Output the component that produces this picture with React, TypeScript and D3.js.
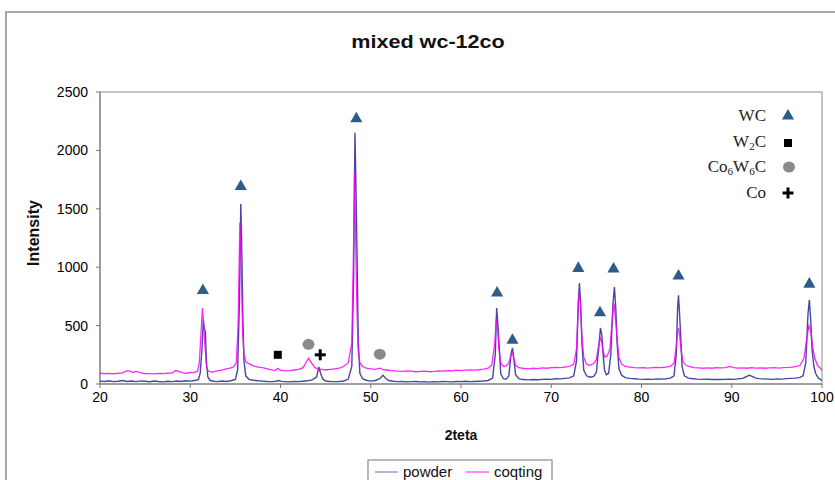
import React from "react";
import * as d3 from "d3";

const TITLE = "mixed wc-12co";
const X_LABEL = "2teta";
const Y_LABEL = "Intensity";
const THETA_TICKS = [20, 30, 40, 50, 60, 70, 80, 90, 100];
const INTENSITY_TICKS = [0, 500, 1000, 1500, 2000, 2500];
const SERIES_NAMES = ["powder", "coqting"];
const SERIES_COLORS = ["#4646a6", "#ff00ff"];

// [2theta, intensity]
const powder: [number, number][] = [
  [20, 25], [20.5, 22], [21, 28], [21.5, 20], [22, 24], [22.5, 30], [23, 22], [23.5, 26], [24, 20], [24.5, 27],
  [25, 23], [25.5, 19], [26, 25], [26.5, 21], [27, 18], [27.5, 24], [28, 20], [28.5, 26], [29, 22], [29.5, 28],
  [30, 25], [30.5, 30], [30.9, 38], [31.1, 90], [31.3, 300], [31.45, 550], [31.55, 480], [31.68, 440], [31.8, 180],
  [31.95, 60], [32.2, 30], [32.6, 24], [33, 20], [33.5, 26], [34, 22], [34.5, 28], [35, 40], [35.25, 120],
  [35.45, 700], [35.6, 1540], [35.72, 1100], [35.82, 600], [35.95, 200], [36.15, 70], [36.5, 40], [37, 32],
  [37.5, 28], [38, 25], [38.5, 22], [39, 20], [39.5, 24], [39.8, 30], [40.1, 22], [40.5, 20], [41, 18], [41.5, 22],
  [42, 20], [42.5, 24], [43, 28], [43.5, 35], [44, 60], [44.25, 145], [44.45, 90], [44.7, 40], [45, 26], [45.5, 22],
  [46, 20], [46.5, 22], [47, 26], [47.5, 40], [47.9, 150], [48.1, 900], [48.25, 2150], [48.38, 1600], [48.5, 1000],
  [48.62, 350], [48.8, 90], [49.1, 45], [49.5, 32], [50, 25], [50.5, 30], [51, 45], [51.35, 75], [51.7, 45],
  [52, 30], [52.5, 24], [53, 20], [53.5, 22], [54, 18], [54.5, 20], [55, 22], [55.5, 18], [56, 20], [56.5, 16],
  [57, 20], [57.5, 18], [58, 22], [58.5, 20], [59, 18], [59.5, 22], [60, 20], [60.5, 24], [61, 20], [61.5, 22],
  [62, 24], [62.5, 26], [63, 30], [63.5, 50], [63.8, 250], [63.95, 650], [64.1, 500], [64.25, 300], [64.4, 90],
  [64.7, 45], [65, 40], [65.3, 70], [65.55, 260], [65.7, 310], [65.85, 220], [66.05, 80], [66.4, 45], [66.8, 38],
  [67.5, 35], [68, 38], [68.5, 36], [69, 40], [69.5, 42], [70, 40], [70.5, 45], [71, 44], [71.5, 48], [72, 52],
  [72.5, 70], [72.8, 200], [73.0, 700], [73.12, 865], [73.25, 700], [73.4, 350], [73.6, 120], [73.9, 70],
  [74.3, 58], [74.7, 65], [75.0, 100], [75.25, 300], [75.45, 480], [75.6, 420], [75.75, 250], [75.9, 120],
  [76.1, 80], [76.35, 90], [76.6, 250], [76.85, 700], [77.0, 830], [77.15, 650], [77.3, 350], [77.5, 130],
  [77.8, 75], [78.2, 55], [78.7, 48], [79.2, 45], [79.7, 42], [80.2, 40], [80.7, 42], [81.2, 40], [81.7, 44],
  [82.2, 42], [82.7, 45], [83.2, 50], [83.6, 70], [83.85, 250], [84.0, 650], [84.1, 760], [84.22, 600],
  [84.35, 400], [84.5, 150], [84.75, 70], [85.2, 50], [85.7, 45], [86.2, 42], [86.7, 40], [87.2, 42], [87.7, 38],
  [88.2, 40], [88.7, 38], [89.2, 40], [89.7, 42], [90.2, 40], [90.7, 44], [91.2, 48], [91.6, 62], [91.9, 75],
  [92.2, 68], [92.6, 52], [93, 46], [93.5, 44], [94, 42], [94.5, 40], [95, 44], [95.5, 42], [96, 46], [96.5, 48],
  [97, 50], [97.5, 55], [97.9, 70], [98.2, 180], [98.45, 600], [98.6, 720], [98.75, 550], [98.9, 300],
  [99.1, 150], [99.3, 90], [99.6, 50], [100, 30],
];

const coating: [number, number][] = [
  [20, 92], [20.5, 88], [21, 90], [21.5, 86], [22, 92], [22.5, 95], [23, 115], [23.3, 110], [23.6, 100], [24, 108],
  [24.5, 95], [25, 90], [25.5, 88], [26, 86], [26.5, 90], [27, 88], [27.5, 92], [28, 95], [28.4, 115], [28.8, 105],
  [29.2, 95], [29.6, 92], [30, 100], [30.4, 98], [30.8, 110], [31.0, 180], [31.2, 450], [31.35, 650], [31.5, 500],
  [31.65, 300], [31.8, 150], [32.0, 110], [32.4, 100], [32.8, 110], [33.2, 115], [33.6, 120], [34, 130],
  [34.4, 135], [34.8, 145], [35.1, 180], [35.3, 500], [35.5, 1380], [35.65, 1000], [35.8, 450], [35.95, 250],
  [36.2, 185], [36.6, 170], [37, 155], [37.5, 145], [38, 140], [38.5, 130], [39, 120], [39.4, 115], [39.7, 135],
  [40, 118], [40.5, 112], [41, 115], [41.5, 120], [42, 125], [42.5, 140], [42.8, 180], [43.1, 220], [43.4, 185],
  [43.8, 140], [44.2, 130], [44.6, 125], [45, 120], [45.5, 125], [46, 130], [46.5, 135], [47, 150], [47.5, 180],
  [47.9, 350], [48.1, 1200], [48.2, 1815], [48.32, 1300], [48.45, 700], [48.6, 300], [48.8, 180], [49.1, 150],
  [49.5, 135], [50, 130], [50.5, 125], [51, 135], [51.3, 125], [51.8, 120], [52.3, 115], [53, 110], [53.5, 108],
  [54, 112], [54.5, 110], [55, 105], [55.5, 108], [56, 110], [56.5, 105], [57, 108], [57.5, 112], [58, 110],
  [58.5, 115], [59, 112], [59.5, 118], [60, 115], [60.5, 118], [61, 120], [61.5, 118], [62, 122], [62.5, 128],
  [63, 135], [63.4, 160], [63.75, 350], [63.9, 560], [64.05, 480], [64.2, 300], [64.4, 180], [64.7, 150],
  [65, 155], [65.3, 180], [65.55, 250], [65.7, 270], [65.85, 220], [66.05, 160], [66.4, 140], [66.8, 135],
  [67.5, 130], [68, 135], [68.5, 132], [69, 138], [69.5, 135], [70, 140], [70.5, 142], [71, 140], [71.5, 145],
  [72, 150], [72.5, 170], [72.8, 300], [73.0, 700], [73.1, 790], [73.25, 650], [73.4, 400], [73.6, 230],
  [73.9, 170], [74.3, 160], [74.7, 175], [75.0, 210], [75.25, 330], [75.45, 390], [75.6, 360], [75.75, 280],
  [75.95, 230], [76.2, 240], [76.5, 300], [76.8, 600], [76.95, 690], [77.1, 580], [77.3, 380], [77.5, 230],
  [77.8, 170], [78.2, 150], [78.7, 145], [79.2, 140], [79.7, 138], [80.2, 140], [80.7, 136], [81.2, 140],
  [81.7, 142], [82.2, 140], [82.7, 145], [83.2, 150], [83.6, 180], [83.85, 320], [84.0, 440], [84.1, 480],
  [84.25, 400], [84.4, 280], [84.6, 190], [84.9, 160], [85.3, 150], [85.8, 140], [86.3, 138], [86.8, 135],
  [87.3, 138], [87.8, 135], [88.3, 140], [88.8, 138], [89.3, 140], [89.8, 150], [90.2, 140], [90.7, 136],
  [91.2, 138], [91.7, 135], [92.2, 140], [92.7, 136], [93.2, 138], [93.7, 135], [94.2, 138], [94.7, 140],
  [95.2, 136], [95.7, 140], [96.2, 142], [96.7, 145], [97.2, 150], [97.6, 165], [98, 220], [98.3, 380],
  [98.55, 500], [98.75, 460], [98.95, 320], [99.2, 220], [99.5, 160], [100, 120],
];

// phase annotation markers [2theta, intensity]
const wcMarks: [number, number][] = [
  [31.4, 800], [35.6, 1690], [48.4, 2270], [64.0, 780], [65.7, 375], [73.0, 990], [75.4, 610], [76.9, 985],
  [84.1, 925], [98.6, 855],
];
const w2cMarks: [number, number][] = [[39.7, 250]];
const co6w6cMarks: [number, number][] = [[43.1, 340], [51.0, 255]];
const coMarks: [number, number][] = [[44.4, 250]];

const SANS = "'Liberation Sans', Arial, sans-serif";
const SERIF = "'Liberation Serif', 'Times New Roman', serif";

const W = 835;
const H = 480;
const PL = 100, PR = 822, PT = 92, PB = 384;

export default function App() {
  const x = d3.scaleLinear().domain([20, 100]).range([PL, PR]);
  const y = d3.scaleLinear().domain([0, 2500]).range([PB, PT]);
  const line = d3
    .line<[number, number]>()
    .x((d) => x(d[0]))
    .y((d) => y(d[1]));

  const tri = d3.symbol().type(d3.symbolTriangle).size(64)() as string;

  return (
    <svg
      width={W}
      height={H}
      style={{ position: "absolute", left: 0, top: 0, background: "#fff" }}
    >
      <rect x={0} y={0} width={W} height={H} fill="#fff" />
      <rect x={6} y={12} width={860} height={520} fill="#fff" stroke="#a8a8a8" strokeWidth={2} />

      <text
        x={428}
        y={48}
        textAnchor="middle"
        fontFamily={SANS}
        fontSize={18}
        fontWeight="bold"
        fill="#111"
        transform="translate(428,0) scale(1.2,1) translate(-428,0)"
      >
        {TITLE}
      </text>

      {/* plot border */}
      <rect x={PL} y={PT} width={PR - PL} height={PB - PT} fill="#fff" stroke="#8c8c8c" strokeWidth={1} />

      {/* series */}
      <path d={line(powder) || ""} fill="none" stroke={SERIES_COLORS[0]} strokeWidth={1.4} />
      <path d={line(coating) || ""} fill="none" stroke={SERIES_COLORS[1]} strokeWidth={1.3} strokeOpacity={0.85} />

      {/* axes */}
      <line x1={PL} x2={PL} y1={PT} y2={PB} stroke="#777" />
      <line x1={PL} x2={PR} y1={PB} y2={PB} stroke="#777" />
      {INTENSITY_TICKS.map((t) => (
        <g key={"y" + t}>
          <line x1={PL - 4} x2={PL} y1={y(t)} y2={y(t)} stroke="#777" />
          <text
            x={88}
            y={y(t)}
            dy="0.35em"
            textAnchor="end"
            fontFamily={SANS}
            fontSize={14}
            fill="#000"
          >
            {t}
          </text>
        </g>
      ))}
      {THETA_TICKS.map((t) => (
        <g key={"x" + t}>
          <line x1={x(t)} x2={x(t)} y1={PB} y2={PB + 4} stroke="#777" />
          <text
            x={x(t)}
            y={PB + 18}
            textAnchor="middle"
            fontFamily={SANS}
            fontSize={14}
            fill="#000"
          >
            {t}
          </text>
        </g>
      ))}

      <text
        x={461}
        y={440}
        textAnchor="middle"
        fontFamily={SANS}
        fontSize={14}
        fontWeight="bold"
        fill="#111"
      >
        {X_LABEL}
      </text>
      <text
        transform={`translate(39,233) rotate(-90)`}
        textAnchor="middle"
        fontFamily={SANS}
        fontSize={16}
        fontWeight="bold"
        fill="#111"
      >
        {Y_LABEL}
      </text>

      {/* phase markers */}
      {wcMarks.map((d, i) => (
        <path key={"wc" + i} d={tri} transform={`translate(${x(d[0])},${y(d[1])})`} fill="#2e5c8a" />
      ))}
      {w2cMarks.map((d, i) => (
        <rect key={"w2c" + i} x={x(d[0]) - 4} y={y(d[1]) - 4} width={8} height={8} fill="#000" />
      ))}
      {co6w6cMarks.map((d, i) => (
        <ellipse key={"co6" + i} cx={x(d[0])} cy={y(d[1])} rx={6} ry={5.5} fill="#8a8a8a" />
      ))}
      {coMarks.map((d, i) => (
        <g key={"co" + i} transform={`translate(${x(d[0])},${y(d[1])})`}>
          <line x1={-5.5} x2={5.5} y1={0} y2={0} stroke="#000" strokeWidth={3} />
          <line x1={0} x2={0} y1={-5.5} y2={5.5} stroke="#000" strokeWidth={3} />
        </g>
      ))}

      {/* phase legend */}
      <g fontFamily={SERIF} fontSize={17} fill="#222">
        <text x={766} y={121} textAnchor="end">WC</text>
        <path d={tri} transform="translate(788,116)" fill="#2e5c8a" />
        <text x={766} y={147} textAnchor="end">
          W<tspan fontSize={11} dy={3}>2</tspan>
          <tspan dy={-3}>C</tspan>
        </text>
        <rect x={784} y={139} width={8} height={8} fill="#000" />
        <text x={766} y={172} textAnchor="end">
          Co<tspan fontSize={11} dy={3}>6</tspan>
          <tspan dy={-3}>W</tspan>
          <tspan fontSize={11} dy={3}>6</tspan>
          <tspan dy={-3}>C</tspan>
        </text>
        <ellipse cx={789} cy={167} rx={6} ry={5.5} fill="#8a8a8a" />
        <text x={766} y={198} textAnchor="end">Co</text>
        <g transform="translate(788,193)">
          <line x1={-5.5} x2={5.5} y1={0} y2={0} stroke="#000" strokeWidth={3} />
          <line x1={0} x2={0} y1={-5.5} y2={5.5} stroke="#000" strokeWidth={3} />
        </g>
      </g>

      {/* series legend */}
      <rect x={368} y={460} width={184} height={30} fill="#fff" stroke="#777" />
      {SERIES_NAMES.map((n, i) => {
        const lx = i === 0 ? 375 : 466;
        return (
          <g key={n}>
            <line x1={lx} x2={lx + 23} y1={472} y2={472} stroke={i === 0 ? "#9a9ad8" : "#ff66ff"} strokeWidth={1.5} />
            <text x={lx + 28} y={477} fontFamily={SANS} fontSize={15} fill="#111">
              {n}
            </text>
          </g>
        );
      })}
    </svg>
  );
}
